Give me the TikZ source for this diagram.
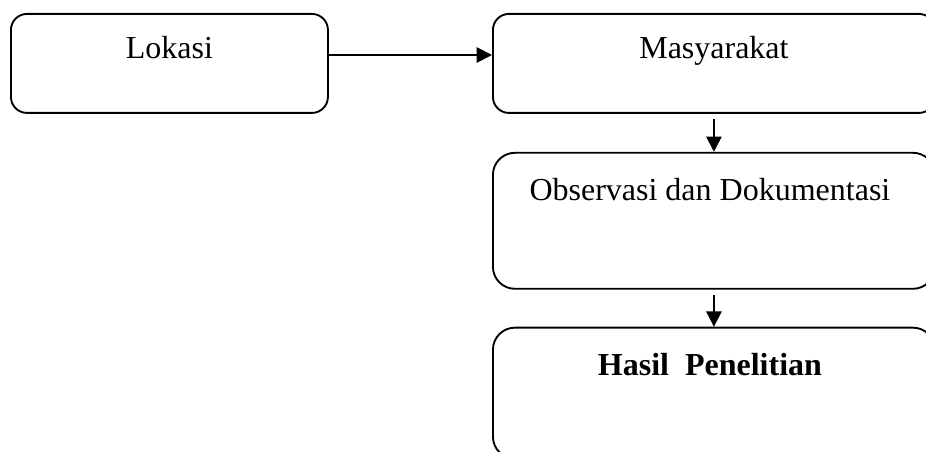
\documentclass[tikz,border=0pt]{standalone}
\usepackage{fontspec}
\setmainfont{Liberation Serif}
\usetikzlibrary{positioning, arrows.meta}

\tikzset{
	flow box/.style={draw, line width=1.4pt,
		inner sep=0pt, anchor=north west, align=center,
		font=\fontsize{24}{28}\selectfont},
	box short/.style={rounded corners=12pt, text height=33.75pt, text depth=40.5pt},
	box tall/.style={rounded corners=16.5pt, text height=36pt, text depth=66pt},
}

\begin{document}
\begin{tikzpicture}[x=0.75pt, y=-0.75pt, >={Triangle[length=11.5pt, width=11.5pt]}]

		\useasboundingbox (0,0) rectangle (926,452);
		\clip (0,0) rectangle (926,452);

		% Left
		\node [flow box, box short, minimum width=237.75pt] (lokasi) at (10,13) {Lokasi};

		% Right column
		\node [flow box, box short, minimum width=331.5pt] (masy) at (492,13) {Masyarakat};
		\node [flow box, box tall, minimum width=331.5pt, below=28.5pt of masy] (obs) {
			Observasi dan Dokumentasi
		};
		\node [flow box, box tall, text depth=62.25pt, minimum width=331.5pt, below=27.75pt of obs] (hasil) {
			\textbf{Hasil~~Penelitian}
		};

		\draw [->, line width=1.4pt] (lokasi.east |- 0,55) -- (masy.west |- 0,55);
		\draw [->, line width=1.4pt, shorten <=4pt] (masy) -- (obs);
		\draw [->, line width=1.4pt, shorten <=4pt] (obs) -- (hasil);

	\end{tikzpicture}
\end{document}
